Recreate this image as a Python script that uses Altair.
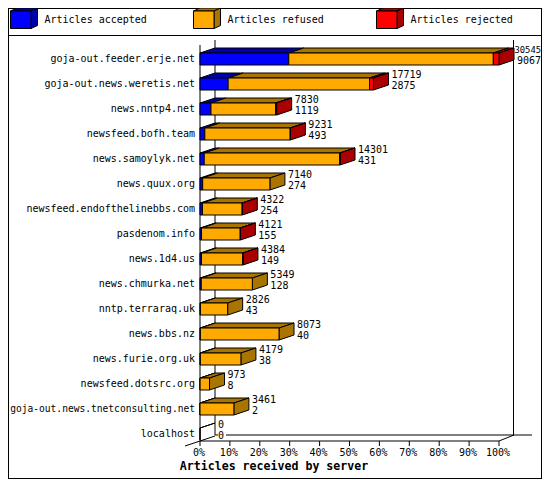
import altair as alt
import pandas as pd

servers = ["goja-out.feeder.erje.net", "goja-out.news.weretis.net", "news.nntp4.net",
           "newsfeed.bofh.team", "news.samoylyk.net", "news.quux.org",
           "newsfeed.endofthelinebbs.com", "pasdenom.info", "news.1d4.us",
           "news.chmurka.net", "nntp.terraraq.uk", "news.bbs.nz", "news.furie.org.uk",
           "newsfeed.dotsrc.org", "goja-out.news.tnetconsulting.net", "localhost"]
totals = [30545, 17719, 7830, 9231, 14301, 7140, 4322, 4121, 4384, 5349, 2826, 8073, 4179, 973, 3461, 0]
accepted = [9067, 2875, 1119, 493, 431, 274, 254, 155, 149, 128, 43, 40, 38, 8, 2, 0]
rejected = [580, 400, 100, 12, 12, 0, 12, 6, 6, 0, 0, 0, 0, 0, 0, 0]
ticks = list(range(0, 101, 10))
series = ["Articles accepted", "Articles refused", "Articles rejected"]
front_colors = ["#0000ff", "#ffaa00", "#ff0000"]
dark_colors = ["#0000aa", "#aa7400", "#aa0000"]

OX, OY = 8, 8                      # page margin
RIGHT = 542                        # the page clips the chart here
X0, X100 = 200, 499                # front axis, in page pixels
Y0, YSTEP = 59, 25
DX, DY, HALF = 15, 5, 6


def ux(px):
    return (px - X0) / (X100 - X0) * 100


def uy(py):
    return (py - Y0) / YSTEP


xs = alt.Scale(domain=[0, 100], range=[X0 - OX, X100 - OX])
ys = alt.Scale(domain=[0, 15], range=[Y0 - OY, Y0 + 15 * YSTEP - OY])
ddx, ddy, dh = DX / (X100 - X0) * 100, DY / YSTEP, HALF / YSTEP
maximum = max(totals)

fronts, tops, sides = [], [], []
for i, (t, a, r) in enumerate(zip(totals, accepted, rejected)):
    edges = [0, a, t - r, t]
    for s in range(3):
        v0, v1 = edges[s] / maximum * 100, edges[s + 1] / maximum * 100
        if v1 <= v0 and t > 0:
            continue
        if t == 0 and s > 0:
            continue
        fronts.append(dict(x=v0, x2=v1, y=i - dh, y2=i + dh, s=series[s]))
        pid = f"{i}-{s}"
        tops.append(dict(x=v0, x2=v1, y=i - dh, s=series[s], id=pid))
        tops.append(dict(x=v0 + ddx, x2=v1 + ddx, y=i - dh - ddy, s=series[s], id=pid))
    if t == 0:
        continue
    last = 2 if r > 0 else 1
    end = t / maximum * 100
    sides.append(dict(x=end, y=i - dh, y2=i + dh, s=series[last], id=str(i)))
    sides.append(dict(x=end + ddx, y=i - dh - ddy, y2=i + dh - ddy, s=series[last], id=str(i)))

# legend swatches, same three faces
for s, lx in enumerate([10.5, 193.5, 376.5]):
    x0, x1 = ux(lx), ux(lx + 20.5)
    d_x, d_y = ux(lx + 6.5) - ux(lx), uy(3) - uy(0)
    yt, yb = uy(11), uy(28.5)
    fronts.append(dict(x=x0, x2=x1, y=yt, y2=yb, s=series[s]))
    tops.append(dict(x=x0, x2=x1, y=yt, s=series[s], id=f"L{s}"))
    tops.append(dict(x=x0 + d_x, x2=x1 + d_x, y=yt - d_y, s=series[s], id=f"L{s}"))
    sides.append(dict(x=x1, y=yt, y2=yb, s=series[s], id=f"L{s}"))
    sides.append(dict(x=x1 + d_x, y=yt - d_y, y2=yb - d_y, s=series[s], id=f"L{s}"))

X = lambda f="x": alt.X(f"{f}:Q", scale=xs, axis=None, stack=None)
Y = lambda f="y": alt.Y(f"{f}:Q", scale=ys, axis=None, stack=None)
front_scale = alt.Scale(domain=series, range=front_colors)
dark_scale = alt.Scale(domain=series, range=dark_colors)


def rule_h(py, a, b):
    return dict(x=ux(a), x2=ux(b), y=uy(py), y2=uy(py))


def rule_v(px, a, b):
    return dict(x=ux(px), x2=ux(px), y=uy(a), y2=uy(b))


lines = [
    rule_h(35.5, OX, RIGHT),        # under the legend
    rule_h(478.5, OX, RIGHT),       # frame bottom
    rule_h(OY + 0.5, OX, RIGHT),    # frame top
    rule_v(OX + 0.5, OY, 479),      # frame left
    rule_v(RIGHT - 0.5, OY, 479),   # frame right
    rule_v(200, 45, 441),           # front axis
    rule_v(215, 40, 435),           # back wall left
    rule_v(513.5, 40, 435),         # back wall right
    rule_h(435, 215, 218),          # floor back, broken by the 0 label
    rule_h(435, 226, 532),
    rule_h(441, 200, 499),          # floor front
    dict(x=ux(185), x2=ux(215), y=uy(446), y2=uy(436)),
    dict(x=ux(499), x2=ux(514), y=uy(441), y2=uy(435)),
]
for t in ticks:
    lines.append(dict(x=t, x2=t, y=uy(441), y2=uy(446)))

rules = alt.Chart(pd.DataFrame(lines)).mark_rule(color="black", strokeWidth=1).encode(
    x=X(), x2="x2:Q", y=Y(), y2="y2:Q")

outline = dict(stroke="black", strokeWidth=1, strokeJoin="miter")
top_layer = alt.Chart(pd.DataFrame(tops)).mark_area(orient="horizontal", interpolate="linear", **outline).encode(
    x=X(), x2="x2:Q", y=Y(), detail="id:N",
    fill=alt.Fill("s:N", scale=dark_scale, legend=None))
side_layer = alt.Chart(pd.DataFrame(sides)).mark_area(orient="vertical", interpolate="linear", **outline).encode(
    x=X(), y=Y(), y2="y2:Q", detail="id:N",
    fill=alt.Fill("s:N", scale=dark_scale, legend=None))
front_layer = alt.Chart(pd.DataFrame(fronts)).mark_rect(**outline).encode(
    x=X(), x2="x2:Q", y=Y(), y2="y2:Q",
    fill=alt.Fill("s:N", scale=front_scale, legend=None))

FONT = "DejaVu Sans Mono"
txt = dict(font=FONT, color="black", baseline="middle")

name_df = pd.DataFrame(dict(x=[0.0] * 16, y=list(range(16)), t=servers))
names = alt.Chart(name_df).mark_text(align="right", dx=-5, **txt).encode(
    x=X(), y=Y(), text="t:N",
    size=alt.condition("datum.y == 14", alt.value(9.6), alt.value(10)))

val_rows = []
for i, (t, a) in enumerate(zip(totals, accepted)):
    vx = t / maximum * 100 + ddx
    val_rows.append(dict(x=vx, y=i - 9 / YSTEP, t=str(t), n=t))
    val_rows.append(dict(x=vx, y=i + 2 / YSTEP, t=str(a), n=a))
val_df = pd.DataFrame(val_rows)
big = val_df[val_df.n == maximum]
rest = val_df[val_df.n != maximum]
vals = alt.Chart(rest).mark_text(align="left", dx=3, fontSize=10, **txt).encode(
    x=X(), y=Y(), text="t:N")
vals_big = alt.Chart(big).mark_text(align="left", dx=0.5, fontSize=8.8, **txt).encode(
    x=X(), y=Y(), text="t:N")

tick_df = pd.DataFrame(dict(x=ticks, y=[uy(452.5)] * 11, t=[f"{t}%" for t in ticks]))
tick_text = alt.Chart(tick_df).mark_text(align="center", dx=-1, fontSize=10, **txt).encode(
    x=X(), y=Y(), text="t:N")

title_df = pd.DataFrame(dict(x=[ux(274)], y=[uy(467)], t=["Articles received by server"]))
title = alt.Chart(title_df).mark_text(align="center", font=FONT, fontSize=11.6, fontWeight="bold",
                                      color="black", baseline="middle").encode(
    x=X(), y=Y(), text="t:N")

leg_df = pd.DataFrame(dict(x=[ux(44.5), ux(227.5), ux(410.5)], y=[uy(20)] * 3, t=series))
leg_text = alt.Chart(leg_df).mark_text(align="left", fontSize=10, **txt).encode(x=X(), y=Y(), text="t:N")

chart = alt.layer(rules, top_layer, side_layer, front_layer, names, vals, vals_big, tick_text, title, leg_text).resolve_scale(
    fill="independent"
).properties(
    width=RIGHT - OX, height=472, background="white", padding=0, autosize=alt.AutoSizeParams(type="none")
).configure_view(stroke=None)

chart.save("out.html", embed_options={"renderer": "svg", "actions": False})
